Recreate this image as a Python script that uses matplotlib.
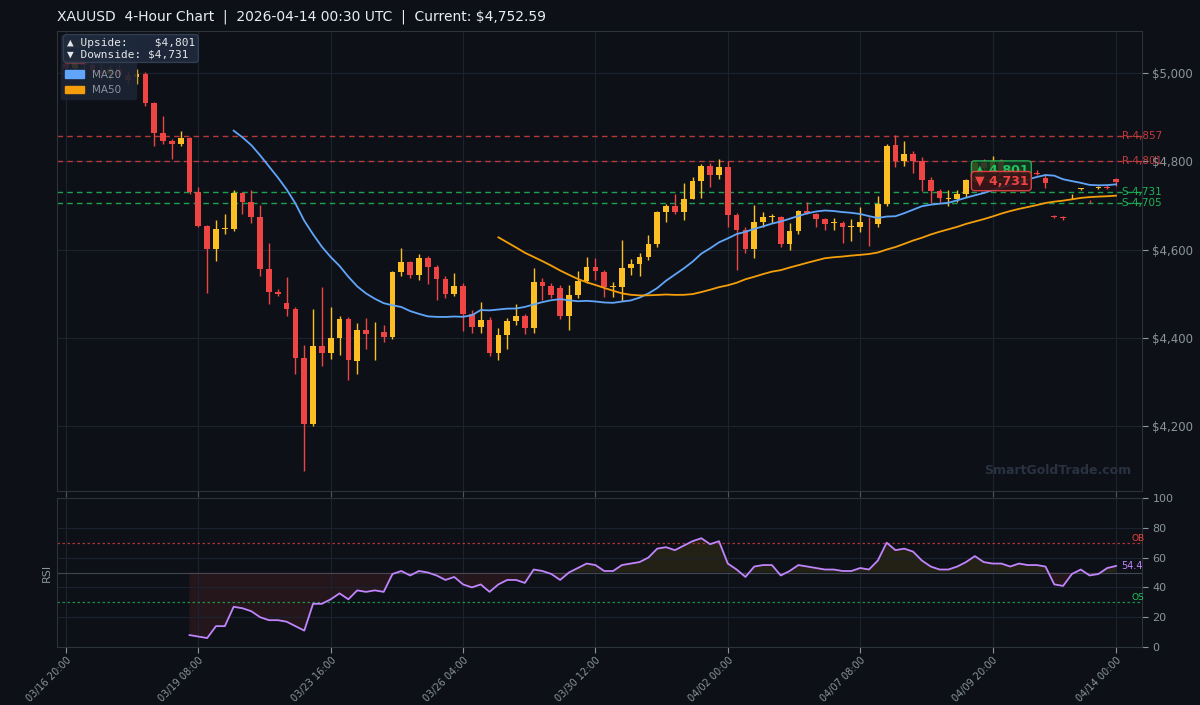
import matplotlib
matplotlib.use("Agg")
import matplotlib.pyplot as plt
import matplotlib.patches as mpatches
import numpy as np
import pandas as pd

opens = [5020,5012,5025,5018,5005,4998,5008,4995,4990,4998,4932,4864,4846,4839,4853,4730,4653,4601,4646,4647,
         4728,4708,4674,4556,4504,4479,4466,4355,4205,4382,4366,4400,4443,4348,4418,4410,4413,4402,4549,4572,
         4543,4581,4561,4533,4500,4518,4454,4425,4441,4366,4407,4438,4450,4422,4527,4518,4513,4450,4497,4529,
         4561,4549,4515,4515,4558,4567,4583,4613,4685,4699,4685,4715,4755,4789,4769,4787,4678,4644,4601,4662,
         4673,4673,4612,4641,4687,4681,4669,4660,4660,4651,4651,4660,4658,4703,4837,4801,4817,4801,4758,4733,
         4715,4715,4726,4758,4796,4785,4800,4778,4782,4775,4773,4762,4676,4674,4718,4737,4708,4740,4742,4760]
highs = [5035,5030,5040,5032,5020,5015,5020,5005,5008,5002,4935,4903,4850,4869,4856,4742,4656,4666,4680,4735,
         4730,4735,4700,4615,4510,4538,4470,4384,4465,4515,4470,4450,4447,4434,4446,4436,4430,4552,4604,4575,
         4590,4585,4565,4540,4547,4525,4462,4481,4447,4422,4445,4477,4455,4558,4536,4525,4520,4520,4551,4583,
         4581,4553,4527,4622,4578,4592,4633,4687,4703,4726,4751,4764,4793,4796,4805,4800,4683,4651,4701,4686,
         4680,4676,4660,4690,4708,4683,4672,4672,4665,4670,4697,4674,4721,4840,4859,4846,4823,4810,4764,4738,
         4735,4735,4760,4800,4806,4812,4806,4790,4788,4778,4780,4768,4678,4676,4725,4740,4712,4745,4746,4762]
lows = [5005,4995,5010,5000,4985,4985,4990,4975,4975,4925,4835,4840,4805,4835,4725,4650,4502,4574,4636,4642,
        4680,4660,4540,4477,4495,4450,4318,4099,4200,4336,4352,4361,4305,4318,4375,4350,4390,4398,4540,4535,
        4530,4522,4486,4490,4495,4416,4410,4410,4359,4350,4375,4428,4408,4411,4486,4490,4443,4418,4490,4525,
        4530,4493,4493,4484,4542,4540,4577,4606,4663,4680,4667,4715,4717,4742,4760,4651,4554,4592,4581,4650,
        4660,4606,4600,4635,4680,4651,4645,4645,4615,4620,4640,4608,4650,4698,4787,4790,4773,4733,4705,4705,
        4699,4708,4720,4752,4775,4778,4770,4765,4768,4765,4768,4740,4672,4668,4715,4734,4705,4738,4738,4745]
closes = [5012,5025,5018,5005,4998,5008,4995,4985,4998,4932,4864,4846,4839,4853,4730,4653,4601,4646,4648,4728,
          4708,4674,4556,4504,4499,4466,4355,4205,4382,4366,4400,4443,4350,4418,4409,4411,4402,4549,4572,4543,
          4581,4561,4533,4500,4518,4454,4425,4441,4366,4407,4438,4450,4422,4527,4518,4497,4450,4497,4529,4561,
          4552,4515,4518,4558,4567,4583,4613,4685,4699,4685,4715,4755,4789,4769,4787,4678,4644,4601,4662,4673,
          4676,4612,4641,4687,4683,4669,4658,4661,4651,4652,4662,4659,4703,4835,4801,4817,4801,4758,4733,4717,
          4716,4726,4758,4796,4785,4800,4778,4782,4775,4771,4772,4751,4674,4671,4719,4738,4707,4741,4740,4753]
rsi_start = 14
rsi_vals = [8,7,6,14,14,27,26,24,20,18,18,17,14,11,29,29,32,36,32,38,37,38,37,49,51,48,51,50,48,45,
            47,42,40,42,37,42,45,45,43,52,51,49,45,50,53,56,55,51,51,55,56,57,60,66,67,65,68,71,73,69,
            71,56,52,47,54,55,55,48,51,55,54,53,52,52,51,51,53,52,58,70,65,66,64,58,54,52,52,54,57,61,
            57,56,56,54,56,55,55,54,42,41,49,52,48,49,53,54.4]
tick_idx = [0,15,30,45,60,75,90,105,119]
tick_labels = ["03/16 20:00","03/19 08:00","03/23 16:00","03/26 04:00","03/30 12:00",
               "04/02 00:00","04/07 08:00","04/09 20:00","04/14 00:00"]
res_levels = [4857, 4801]
sup_levels = [4731, 4705]
upside, downside = 4801, 4731
current = 4752.59

BG = "#0d1117"; GRID = "#1c2230"; TXT = "#8b949e"
BULL = "#fbbf24"; BEAR = "#ef4444"; MA20C = "#60a5fa"; MA50C = "#f59e0b"

fig = plt.figure(figsize=(12, 7.05), dpi=100, facecolor=BG)
ax = fig.add_axes([57/1200, 1-491/705, (1142-57)/1200, (491-31)/705], facecolor=BG)
ar = fig.add_axes([57/1200, 1-647/705, (1142-57)/1200, (647-498)/705], facecolor=BG, sharex=ax)

n = len(closes)
x = np.arange(n)
for i in x:
    o, h, l, c = opens[i], highs[i], lows[i], closes[i]
    col = BULL if c >= o else BEAR
    ax.vlines(i, l, h, color=col, lw=1, zorder=3)
    ax.bar(i, max(abs(c - o), 1.5), bottom=min(o, c), width=0.65, color=col, zorder=4)

s = pd.Series(closes, dtype=float)
ma20 = s.rolling(20).mean()
ma50 = s.rolling(50).mean()
ax.plot(x, ma20, color=MA20C, lw=1.3, zorder=5)
ax.plot(x, ma50, color=MA50C, lw=1.3, zorder=5)

for lv in res_levels:
    ax.axhline(lv, color=BEAR, ls=(0, (4, 3)), lw=1, alpha=0.75, zorder=2)
    ax.text(119.7, lv, f"R {lv:,}", color=BEAR, fontsize=7.5, va="center", ha="left", alpha=0.8, zorder=6)
for lv in sup_levels:
    ax.axhline(lv, color="#22c55e", ls=(0, (4, 3)), lw=1, alpha=0.8, zorder=2)
    ax.text(119.7, lv, f"S {lv:,}", color="#22c55e", fontsize=7.5, va="center", ha="left", alpha=0.9, zorder=6)

ax.text(106, 4779, f"▲ {upside:,}", color="#22c55e", fontsize=9, fontweight="bold", ha="center", va="center", zorder=8,
        bbox=dict(boxstyle="round,pad=0.25", fc="#143a22", ec="#22c55e", alpha=0.85))
ax.text(106, 4755, f"▼ {downside:,}", color=BEAR, fontsize=9, fontweight="bold", ha="center", va="center", zorder=9,
        bbox=dict(boxstyle="round,pad=0.25", fc="#3a1416", ec=BEAR, alpha=0.9))

ax.set_xlim(-1.02, 121.94)
ax.set_ylim(4053, 5095)
ax.yaxis.tick_right()
ax.set_yticks([4200, 4400, 4600, 4800, 5000])
ax.set_yticklabels(["$4,200", "$4,400", "$4,600", "$4,800", "$5,000"])
ax.set_xticks(tick_idx)
ax.tick_params(axis="x", labelbottom=False, colors="#4b5563", length=4)
ax.tick_params(axis="y", colors=TXT, labelsize=8.5, length=4)
ax.grid(True, color=GRID, lw=0.8)
for sp in ax.spines.values():
    sp.set_color("#2d333b")

handles = [mpatches.Patch(color=BULL, alpha=0.3, label="Bullish"), mpatches.Patch(color=BEAR, alpha=0.3, label="Bearish"),
           mpatches.Patch(color=MA20C, label="MA20"), mpatches.Patch(color=MA50C, label="MA50")]
leg = ax.legend(handles=handles, loc="upper left", fontsize=7.5, facecolor="#1c2333", edgecolor="#1c2333",
                labelcolor=TXT, framealpha=0.9, borderaxespad=0.4, handlelength=1.8)
leg.set_zorder(10)
ax.text(0.009, 0.985, f"▲ Upside:    ${upside:,}\n▼ Downside: ${downside:,}", transform=ax.transAxes,
        fontsize=8, family="DejaVu Sans Mono", color="#e5e7eb", va="top", ha="left", zorder=12, linespacing=1.15,
        bbox=dict(boxstyle="round,pad=0.3", fc="#1e293b", ec="#334155", alpha=0.95))
ax.text(0.99, 0.03, "SmartGoldTrade.com", transform=ax.transAxes, fontsize=9, fontweight="bold",
        color="#2a3140", ha="right", va="bottom")

fig.text(57/1200, 1-17/705, f"XAUUSD  4-Hour Chart  |  2026-04-14 00:30 UTC  |  Current: ${current:,.2f}",
         color="#e6edf3", fontsize=10, va="center", ha="left")

rx = np.arange(rsi_start, rsi_start + len(rsi_vals))
rv = np.array(rsi_vals, dtype=float)
ar.plot(rx, rv, color="#c084fc", lw=1.3, zorder=4)
ar.fill_between(rx, rv, 50, where=rv <= 50, interpolate=True, color="#ef4444", alpha=0.1, lw=0)
ar.fill_between(rx, rv, 50, where=rv >= 50, interpolate=True, color="#eab308", alpha=0.1, lw=0)
ar.axhline(70, color=BEAR, ls=(0, (2, 2)), lw=0.9, alpha=0.7)
ar.axhline(30, color="#22c55e", ls=(0, (2, 2)), lw=0.9, alpha=0.7)
ar.axhline(50, color="#4b5563", lw=0.8, alpha=0.8)
ar.text(120.7, 73, "OB", color=BEAR, fontsize=6.5, va="center", ha="left")
ar.text(120.7, 33, "OS", color="#22c55e", fontsize=6.5, va="center", ha="left")
ar.text(rx[-1] + 0.6, rv[-1], f"{rv[-1]:.1f}", color="#c084fc", fontsize=7, va="center", ha="left")
ar.set_ylim(0, 100)
ar.yaxis.tick_right()
ar.set_yticks([0, 20, 40, 60, 80, 100])
ar.set_ylabel("RSI", color=TXT, fontsize=8)
ar.set_xticks(tick_idx)
ar.set_xticklabels(tick_labels, rotation=45, ha="right", rotation_mode="anchor")
ar.tick_params(axis="x", colors=TXT, labelsize=7, length=4, pad=2)
ar.tick_params(axis="y", colors=TXT, labelsize=8, length=4)
ar.grid(True, color=GRID, lw=0.8)
for sp in ar.spines.values():
    sp.set_color("#2d333b")

fig.savefig("out.png", dpi=100, facecolor=BG)
